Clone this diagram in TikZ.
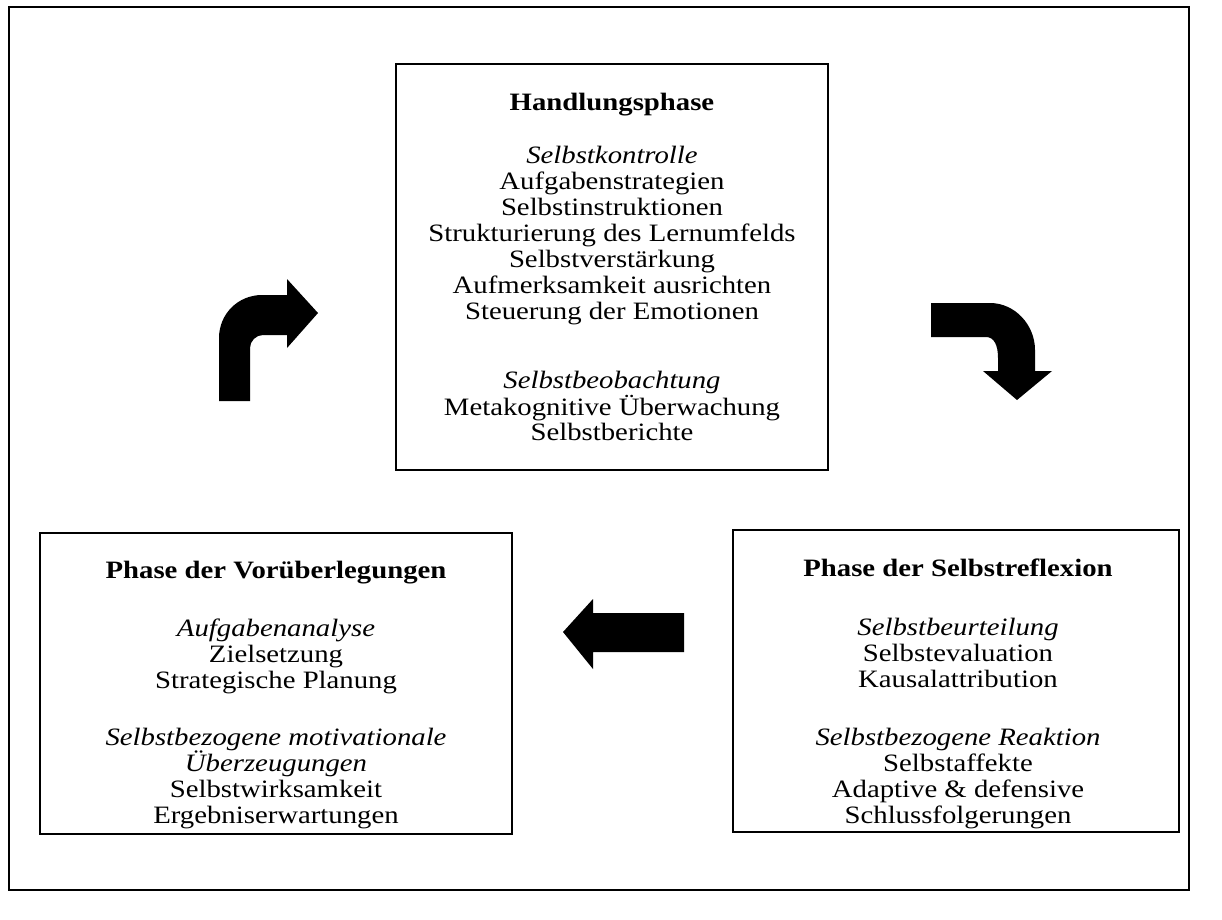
\documentclass[tikz,border=0pt]{standalone}
\usepackage{fontspec}
\setmainfont[FakeStretch=1.15]{Liberation Serif}
\tikzset{
  frame/.style={draw, line width=2pt, inner sep=0pt},
  phasebox/.style={draw, line width=1.5pt, inner sep=0pt},
  txt/.style={inner sep=0pt, anchor=base, font=\fontsize{25}{26}\selectfont},
  ttl/.style={txt, font=\fontsize{25}{26}\selectfont\bfseries},
  itl/.style={txt, font=\fontsize{25}{26}\selectfont\itshape},
  bigarrow/.style={fill=black, draw=none}
}
\begin{document}
\begin{tikzpicture}[x=1pt, y=-1pt]
\useasboundingbox (0,0) rectangle (1222,919);
% outer frame
\node[frame, minimum width=1180pt, minimum height=883pt] (outer) at (599,448.5) {};
% boxes
\node[phasebox, minimum width=432pt, minimum height=406pt] (top) at (612,267) {};
\node[phasebox, minimum width=472pt, minimum height=301pt] (left) at (276,683.5) {};
\node[phasebox, minimum width=446pt, minimum height=302pt] (right) at (956,681) {};

% top box text
\node[ttl] (t0) at (612,110) {Handlungsphase};
\node[itl] (t1) at (612,163) {Selbstkontrolle};
\node[txt] (t2) at (612,189) {Aufgabenstrategien};
\node[txt] (t3) at (612,215) {Selbstinstruktionen};
\node[txt] (t4) at (612,241) {Strukturierung des Lernumfelds};
\node[txt] (t5) at (612,267) {Selbstverstärkung};
\node[txt] (t6) at (612,293) {Aufmerksamkeit ausrichten};
\node[txt] (t7) at (612,319) {Steuerung der Emotionen};
\node[itl] (t8) at (612,388) {Selbstbeobachtung};
\node[txt] (t9) at (612,415) {Metakognitive Überwachung};
\node[txt] (t10) at (612,440) {Selbstberichte};

% left box text
\node[ttl] (l0) at (276,578) {Phase der Vorüberlegungen};
\node[itl] (l1) at (276,636) {Aufgabenanalyse};
\node[txt] (l2) at (276,662) {Zielsetzung};
\node[txt] (l3) at (276,688) {Strategische Planung};
\node[itl] (l4) at (276,745) {Selbstbezogene motivationale};
\node[itl] (l5) at (276,771) {Überzeugungen};
\node[txt] (l6) at (276,797) {Selbstwirksamkeit};
\node[txt] (l7) at (276,823) {Ergebniserwartungen};

% right box text
\node[ttl] (r0) at (958,576) {Phase der Selbstreflexion};
\node[itl] (r1) at (958,635) {Selbstbeurteilung};
\node[txt] (r2) at (958,661) {Selbstevaluation};
\node[txt] (r3) at (958,687) {Kausalattribution};
\node[itl] (r4) at (958,745) {Selbstbezogene Reaktion};
\node[txt] (r5) at (958,771) {Selbstaffekte};
\node[txt] (r6) at (958,797) {Adaptive \& defensive};
\node[txt] (r7) at (958,823) {Schlussfolgerungen};

% arrow 1: up then right
\fill[bigarrow] (219,401) -- (219,338)
  .. controls (219,314) and (238,295) .. (262,295)
  -- (287,295) -- (287,279) -- (318,313) -- (287,348) -- (287,335) -- (263,335)
  .. controls (256,335) and (250,341) .. (250,348)
  -- (250,401) -- cycle;
% arrow 2: right then down
\fill[bigarrow] (931,303) -- (990,303)
  .. controls (1015,303) and (1035,325) .. (1035,350)
  -- (1035,371) -- (1052,371) -- (1017,400) -- (983,371) -- (998,371) -- (998,358)
  .. controls (998,345) and (994,337) .. (986,337)
  -- (931,337) -- cycle;
% arrow 3: left
\fill[bigarrow] (684,613) -- (593,613) -- (593,599) -- (563,632) -- (593,669) -- (593,652) -- (684,652) -- cycle;
\end{tikzpicture}
\end{document}
